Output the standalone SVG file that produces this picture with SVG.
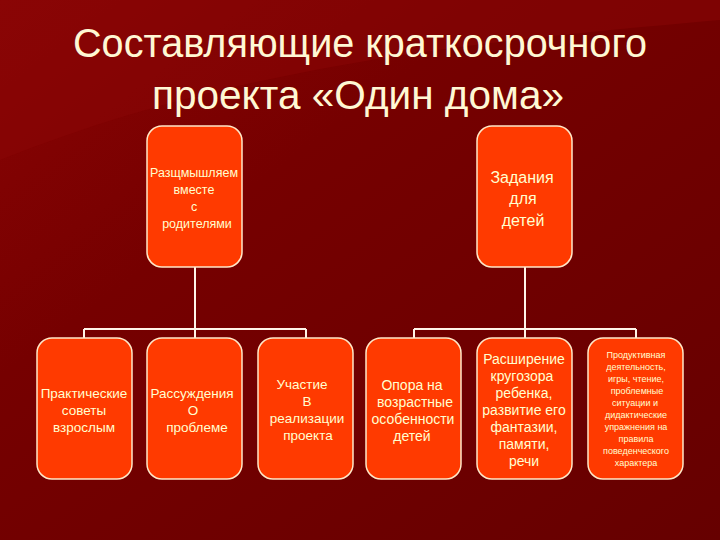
<svg xmlns="http://www.w3.org/2000/svg" width="720" height="540" viewBox="0 0 720 540">
<defs>
<linearGradient id="bg" x1="0" y1="0" x2="1" y2="1">
<stop offset="0" stop-color="#8a0404"/>
<stop offset="0.35" stop-color="#760000"/>
<stop offset="1" stop-color="#660000"/>
</linearGradient>
<style>
.box{fill:#ff3a00;stroke:#ffe8c8;stroke-width:1.5}
.t{font-family:"Liberation Sans",Arial,sans-serif;fill:#ffffd0;text-anchor:middle}
.title{font-family:"Liberation Sans",Arial,sans-serif;fill:#fff8d4;font-size:41px;text-anchor:middle}
.c{stroke:#fff4e8;stroke-width:2;fill:none}
</style>
</defs>
<rect width="720" height="540" fill="url(#bg)"/>
<path d="M0 0 H720 V20 C500 40 250 60 0 160 Z" fill="#8a0505" opacity="0.5"/>
<text class="title" x="360" y="57" textLength="574" lengthAdjust="spacingAndGlyphs">Составляющие краткосрочного</text>
<text class="title" x="358" y="109" textLength="412" lengthAdjust="spacingAndGlyphs">проекта  «Один дома»</text>
<g id="connectors">
<path class="c" d="M195 267 V338 M84 329 H306 M84 329 V338 M306 329 V338"/>
<path class="c" d="M525 267 V338 M414 329 H636 M414 329 V338 M636 329 V338"/>
</g>
<g id="n1">
<rect class="box" x="147" y="126" width="95" height="141" rx="15"/>
<text class="t" font-size="12.5"><tspan x="194" y="177">Разщмышляем</tspan><tspan x="194" y="194">вместе</tspan><tspan x="194" y="211">с</tspan><tspan x="197" y="228">родителями</tspan></text>
</g>
<g id="n2">
<rect class="box" x="477" y="126" width="95" height="141" rx="15"/>
<text class="t" font-size="16"><tspan x="522" y="183">Задания</tspan><tspan x="523" y="204">для</tspan><tspan x="523" y="226">детей</tspan></text>
</g>
<g id="n3">
<rect class="box" x="37" y="338" width="95" height="141" rx="15"/>
<text class="t" font-size="13.5"><tspan x="84" y="398">Практические</tspan><tspan x="84" y="415">советы</tspan><tspan x="84" y="432">взрослым</tspan></text>
</g>
<g id="n4">
<rect class="box" x="147" y="338" width="95" height="141" rx="15"/>
<text class="t" font-size="13.5"><tspan x="192" y="398">Рассуждения</tspan><tspan x="193" y="415">О</tspan><tspan x="197" y="432">проблеме</tspan></text>
</g>
<g id="n5">
<rect class="box" x="258" y="338" width="95" height="141" rx="15"/>
<text class="t" font-size="13.5"><tspan x="302" y="389">Участие</tspan><tspan x="307" y="406">В</tspan><tspan x="307" y="423">реализации</tspan><tspan x="308" y="440">проекта</tspan></text>
</g>
<g id="n6">
<rect class="box" x="366" y="338" width="95" height="141" rx="15"/>
<text class="t" font-size="14"><tspan x="412" y="390">Опора на</tspan><tspan x="415" y="407">возрастные</tspan><tspan x="413" y="424">особенности</tspan><tspan x="412" y="441">детей</tspan></text>
</g>
<g id="n7">
<rect class="box" x="477" y="338" width="95" height="141" rx="15"/>
<text class="t" font-size="14"><tspan x="524" y="364">Расширение</tspan><tspan x="522" y="381">кругозора</tspan><tspan x="524" y="398">ребенка,</tspan><tspan x="524" y="415">развитие его</tspan><tspan x="524" y="432">фантазии,</tspan><tspan x="524" y="449">памяти,</tspan><tspan x="524" y="466">речи</tspan></text>
</g>
<g id="n8">
<rect class="box" x="588" y="338" width="95" height="141" rx="15"/>
<text class="t" font-size="9"><tspan x="636" y="358">Продуктивная</tspan><tspan x="636" y="370">деятельность,</tspan><tspan x="636" y="382">игры, чтение,</tspan><tspan x="637" y="394">проблемные</tspan><tspan x="635" y="406">ситуации и</tspan><tspan x="636" y="418">дидактические</tspan><tspan x="636" y="430">упражнения на</tspan><tspan x="636" y="442">правила</tspan><tspan x="636" y="454">поведенческого</tspan><tspan x="636" y="466">характера</tspan></text>
</g>
</svg>
